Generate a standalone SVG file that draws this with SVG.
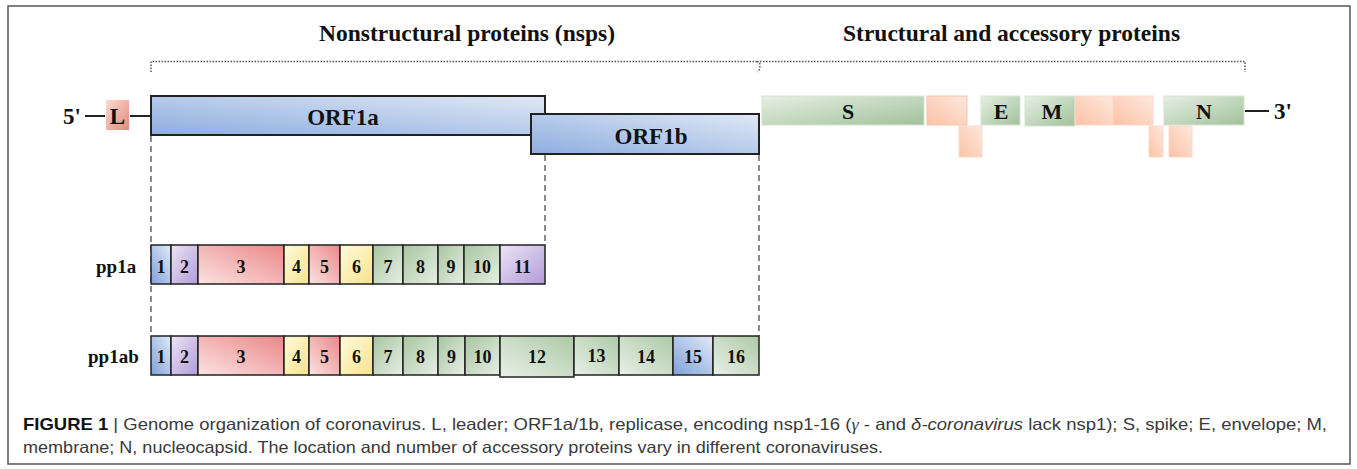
<svg xmlns="http://www.w3.org/2000/svg" width="1357" height="469" viewBox="0 0 1357 469">
  <defs>
    <linearGradient id="gOrf" x1="0" y1="1" x2="1" y2="0">
      <stop offset="0" stop-color="#8dade0"/>
      <stop offset="1" stop-color="#e0e8f5"/>
    </linearGradient>
    <linearGradient id="gBlue" x1="0" y1="1" x2="1" y2="0">
      <stop offset="0" stop-color="#7fa1da"/>
      <stop offset="1" stop-color="#e2eaf7"/>
    </linearGradient>
    <linearGradient id="gPurple" x1="0" y1="0" x2="1" y2="1">
      <stop offset="0" stop-color="#ece5f6"/>
      <stop offset="1" stop-color="#b29bd9"/>
    </linearGradient>
    <linearGradient id="gRed" x1="0" y1="1" x2="1" y2="0">
      <stop offset="0" stop-color="#fbe3e3"/>
      <stop offset="1" stop-color="#eb8787"/>
    </linearGradient>
    <linearGradient id="gYellow" x1="0" y1="0" x2="1" y2="1">
      <stop offset="0" stop-color="#fffbdc"/>
      <stop offset="1" stop-color="#f6e38c"/>
    </linearGradient>
    <linearGradient id="gGreen" x1="0" y1="0" x2="1" y2="1">
      <stop offset="0" stop-color="#a8c5a1"/>
      <stop offset="1" stop-color="#e6efe3"/>
    </linearGradient>
    <linearGradient id="gGreenLt" x1="0" y1="1" x2="1" y2="0">
      <stop offset="0" stop-color="#e8f0e6"/>
      <stop offset="1" stop-color="#adc9a7"/>
    </linearGradient>
    <linearGradient id="gGene" x1="0" y1="0" x2="1" y2="1">
      <stop offset="0" stop-color="#e6efe3"/>
      <stop offset="1" stop-color="#a2c19b"/>
    </linearGradient>
    <linearGradient id="gAcc" x1="0" y1="1" x2="1" y2="0">
      <stop offset="0" stop-color="#fbc2a5"/>
      <stop offset="1" stop-color="#fee8de"/>
    </linearGradient>
    <linearGradient id="gLead" x1="0" y1="0" x2="1" y2="1">
      <stop offset="0" stop-color="#fadcd4"/>
      <stop offset="1" stop-color="#e5887a"/>
    </linearGradient>
    <style>
      .lbl { font-family: "Liberation Serif", "Times New Roman", serif; font-weight: bold; fill: #111; }
      .title { font-size: 23.5px; }
      .big { font-size: 23px; text-anchor: middle; }
      .gl { font-size: 22px; }
      .num { font-size: 18px; text-anchor: middle; }
      .row { font-size: 19px; }
      .orf { stroke: #222; stroke-width: 2; }
      .cell { stroke: #222; stroke-width: 1.5; }
      .gene { stroke: #d6e3d2; stroke-width: 1; }
      .acc { stroke: #fbd9c8; stroke-width: 1; }
      .guide { stroke: #666; stroke-width: 1.5; stroke-dasharray: 6 4; fill: none; }
      .brace { stroke: #555; stroke-width: 1.5; stroke-dasharray: 1.5 1.5; fill: none; }
      .wire { stroke: #222; stroke-width: 2; fill: none; }
      .cap { font-family: "Liberation Sans", Arial, sans-serif; font-size: 16.5px; fill: #3a3a3a; }
    </style>
  </defs>

  <rect x="8" y="6" width="1342" height="458" fill="#fff" stroke="#555" stroke-width="1.5"/>

  <!-- section headings -->
  <text class="lbl title" x="319" y="41">Nonstructural proteins (nsps)</text>
  <text class="lbl title" x="843" y="41">Structural and accessory proteins</text>

  <g id="connectors">
    <!-- brackets over the two regions -->
    <path class="brace" d="M151,72 V61.5 H757"/>
    <path class="brace" d="M757,61.5 Q760,62 760,65 Q760,69 758,72"/>
    <path class="brace" d="M760,61.5 H1245 V72"/>
    <!-- genome backbone -->
    <line class="wire" x1="85" y1="116" x2="105" y2="116"/>
    <line class="wire" x1="130" y1="116" x2="151" y2="116"/>
    <line class="wire" x1="1245" y1="111" x2="1269" y2="111"/>
    <!-- guides from ORFs down to the polyproteins -->
    <line class="guide" x1="151" y1="136" x2="151" y2="336"/>
    <line class="guide" x1="545" y1="155" x2="545" y2="245"/>
    <line class="guide" x1="759" y1="155" x2="759" y2="336"/>
  </g>

  <g id="five-prime"><text class="lbl big" x="72" y="124">5'</text></g>
  <g id="leader">
    <rect x="106" y="100" width="23" height="30" fill="url(#gLead)"/>
    <text class="lbl big" x="117.5" y="124">L</text>
  </g>
  <g id="orf1a">
    <rect class="orf" x="151" y="96" width="394" height="39" fill="url(#gOrf)"/>
    <text class="lbl big" x="343" y="125">ORF1a</text>
  </g>
  <g id="orf1b">
    <rect class="orf" x="531" y="114" width="228" height="40" fill="url(#gOrf)"/>
    <text class="lbl big" x="651" y="144">ORF1b</text>
  </g>

  <!-- structural and accessory genes -->
  <g id="gene-S">
    <rect class="gene" x="762" y="96" width="162" height="29" fill="url(#gGene)"/>
    <text class="lbl big gl" x="848" y="119">S</text>
  </g>
  <g id="acc-1"><rect class="acc" x="927" y="96" width="40" height="29" fill="url(#gAcc)" style="stroke:#f8c4a8"/></g>
  <g id="acc-2"><rect class="acc" x="959" y="126" width="23" height="31" fill="url(#gAcc)"/></g>
  <g id="gene-E">
    <rect class="gene" x="981" y="96" width="39" height="29" fill="url(#gGene)"/>
    <text class="lbl big gl" x="1001" y="119">E</text>
  </g>
  <g id="gene-M">
    <rect class="gene" x="1025" y="96" width="50" height="30" fill="url(#gGene)"/>
    <text class="lbl big gl" x="1052" y="119">M</text>
  </g>
  <g id="acc-3"><rect class="acc" x="1075" y="96" width="38" height="29" fill="url(#gAcc)"/></g>
  <g id="acc-4"><rect class="acc" x="1113" y="96" width="40" height="29" fill="url(#gAcc)"/></g>
  <g id="acc-5"><rect class="acc" x="1149" y="126" width="14" height="31" fill="url(#gAcc)"/></g>
  <g id="acc-6"><rect class="acc" x="1169" y="126" width="23" height="31" fill="url(#gAcc)"/></g>
  <g id="gene-N">
    <rect class="gene" x="1164" y="96" width="80" height="29" fill="url(#gGene)"/>
    <text class="lbl big gl" x="1204" y="119">N</text>
  </g>
  <g id="three-prime"><text class="lbl big" x="1283" y="119">3'</text></g>

  <!-- pp1a polyprotein -->
  <g id="pp1a">
    <text class="lbl row" x="96" y="273">pp1a</text>
    <g id="pp1a-1"><rect class="cell" x="151" y="245" width="20" height="39" fill="url(#gBlue)"/><text class="lbl num" x="161" y="273">1</text></g>
    <g id="pp1a-2"><rect class="cell" x="171" y="245" width="27" height="39" fill="url(#gPurple)"/><text class="lbl num" x="184.5" y="273">2</text></g>
    <g id="pp1a-3"><rect class="cell" x="198" y="245" width="86" height="39" fill="url(#gRed)"/><text class="lbl num" x="241" y="273">3</text></g>
    <g id="pp1a-4"><rect class="cell" x="284" y="245" width="25" height="39" fill="url(#gYellow)"/><text class="lbl num" x="296.5" y="273">4</text></g>
    <g id="pp1a-5"><rect class="cell" x="309" y="245" width="31" height="39" fill="url(#gRed)"/><text class="lbl num" x="324.5" y="273">5</text></g>
    <g id="pp1a-6"><rect class="cell" x="340" y="245" width="33" height="39" fill="url(#gYellow)"/><text class="lbl num" x="356.5" y="273">6</text></g>
    <g id="pp1a-7"><rect class="cell" x="373" y="245" width="30" height="39" fill="url(#gGreen)"/><text class="lbl num" x="388" y="273">7</text></g>
    <g id="pp1a-8"><rect class="cell" x="403" y="245" width="35" height="39" fill="url(#gGreen)"/><text class="lbl num" x="420.5" y="273">8</text></g>
    <g id="pp1a-9"><rect class="cell" x="438" y="245" width="26" height="39" fill="url(#gGreen)"/><text class="lbl num" x="451" y="273">9</text></g>
    <g id="pp1a-10"><rect class="cell" x="464" y="245" width="36" height="39" fill="url(#gGreen)"/><text class="lbl num" x="482" y="273">10</text></g>
    <g id="pp1a-11"><rect class="cell" x="500" y="245" width="45" height="39" fill="url(#gPurple)"/><text class="lbl num" x="522.5" y="273">11</text></g>
  </g>

  <!-- pp1ab polyprotein -->
  <g id="pp1ab">
    <text class="lbl row" x="88" y="363">pp1ab</text>
    <g id="pp1ab-1"><rect class="cell" x="151" y="336" width="20" height="39" fill="url(#gBlue)"/><text class="lbl num" x="161" y="363">1</text></g>
    <g id="pp1ab-2"><rect class="cell" x="171" y="336" width="27" height="39" fill="url(#gPurple)"/><text class="lbl num" x="184.5" y="363">2</text></g>
    <g id="pp1ab-3"><rect class="cell" x="198" y="336" width="86" height="39" fill="url(#gRed)"/><text class="lbl num" x="241" y="363">3</text></g>
    <g id="pp1ab-4"><rect class="cell" x="284" y="336" width="25" height="39" fill="url(#gYellow)"/><text class="lbl num" x="296.5" y="363">4</text></g>
    <g id="pp1ab-5"><rect class="cell" x="309" y="336" width="31" height="39" fill="url(#gRed)"/><text class="lbl num" x="324.5" y="363">5</text></g>
    <g id="pp1ab-6"><rect class="cell" x="340" y="336" width="33" height="39" fill="url(#gYellow)"/><text class="lbl num" x="356.5" y="363">6</text></g>
    <g id="pp1ab-7"><rect class="cell" x="373" y="336" width="30" height="39" fill="url(#gGreen)"/><text class="lbl num" x="388" y="363">7</text></g>
    <g id="pp1ab-8"><rect class="cell" x="403" y="336" width="35" height="39" fill="url(#gGreen)"/><text class="lbl num" x="420.5" y="363">8</text></g>
    <g id="pp1ab-9"><rect class="cell" x="438" y="336" width="27" height="39" fill="url(#gGreen)"/><text class="lbl num" x="451.5" y="363">9</text></g>
    <g id="pp1ab-10"><rect class="cell" x="465" y="336" width="35" height="39" fill="url(#gGreen)"/><text class="lbl num" x="482.5" y="363">10</text></g>
    <g id="pp1ab-12"><rect class="cell" x="500" y="336" width="74" height="41" fill="url(#gGreenLt)"/><text class="lbl num" x="537" y="363">12</text></g>
    <g id="pp1ab-13"><rect class="cell" x="574" y="336" width="45" height="39" fill="url(#gGreenLt)"/><text class="lbl num" x="596.5" y="362">13</text></g>
    <g id="pp1ab-14"><rect class="cell" x="619" y="336" width="54" height="39" fill="url(#gGreenLt)"/><text class="lbl num" x="646" y="363">14</text></g>
    <g id="pp1ab-15"><rect class="cell" x="673" y="336" width="40" height="39" fill="url(#gBlue)"/><text class="lbl num" x="693" y="363">15</text></g>
    <g id="pp1ab-16"><rect class="cell" x="713" y="336" width="46" height="39" fill="url(#gGreenLt)"/><text class="lbl num" x="736" y="363">16</text></g>
  </g>

  <!-- figure caption -->
  <text class="cap" x="23" y="430" textLength="1304" lengthAdjust="spacingAndGlyphs"><tspan font-weight="bold" fill="#111">FIGURE 1</tspan> | Genome organization of coronavirus. L, leader; ORF1a/1b, replicase, encoding nsp1-16 (<tspan font-style="italic" font-family="Liberation Serif, serif">γ</tspan> - and <tspan font-style="italic">δ-coronavirus</tspan> lack nsp1); S, spike; E, envelope; M,</text>
  <text class="cap" x="23" y="453" textLength="860" lengthAdjust="spacingAndGlyphs">membrane; N, nucleocapsid. The location and number of accessory proteins vary in different coronaviruses.</text>
</svg>
